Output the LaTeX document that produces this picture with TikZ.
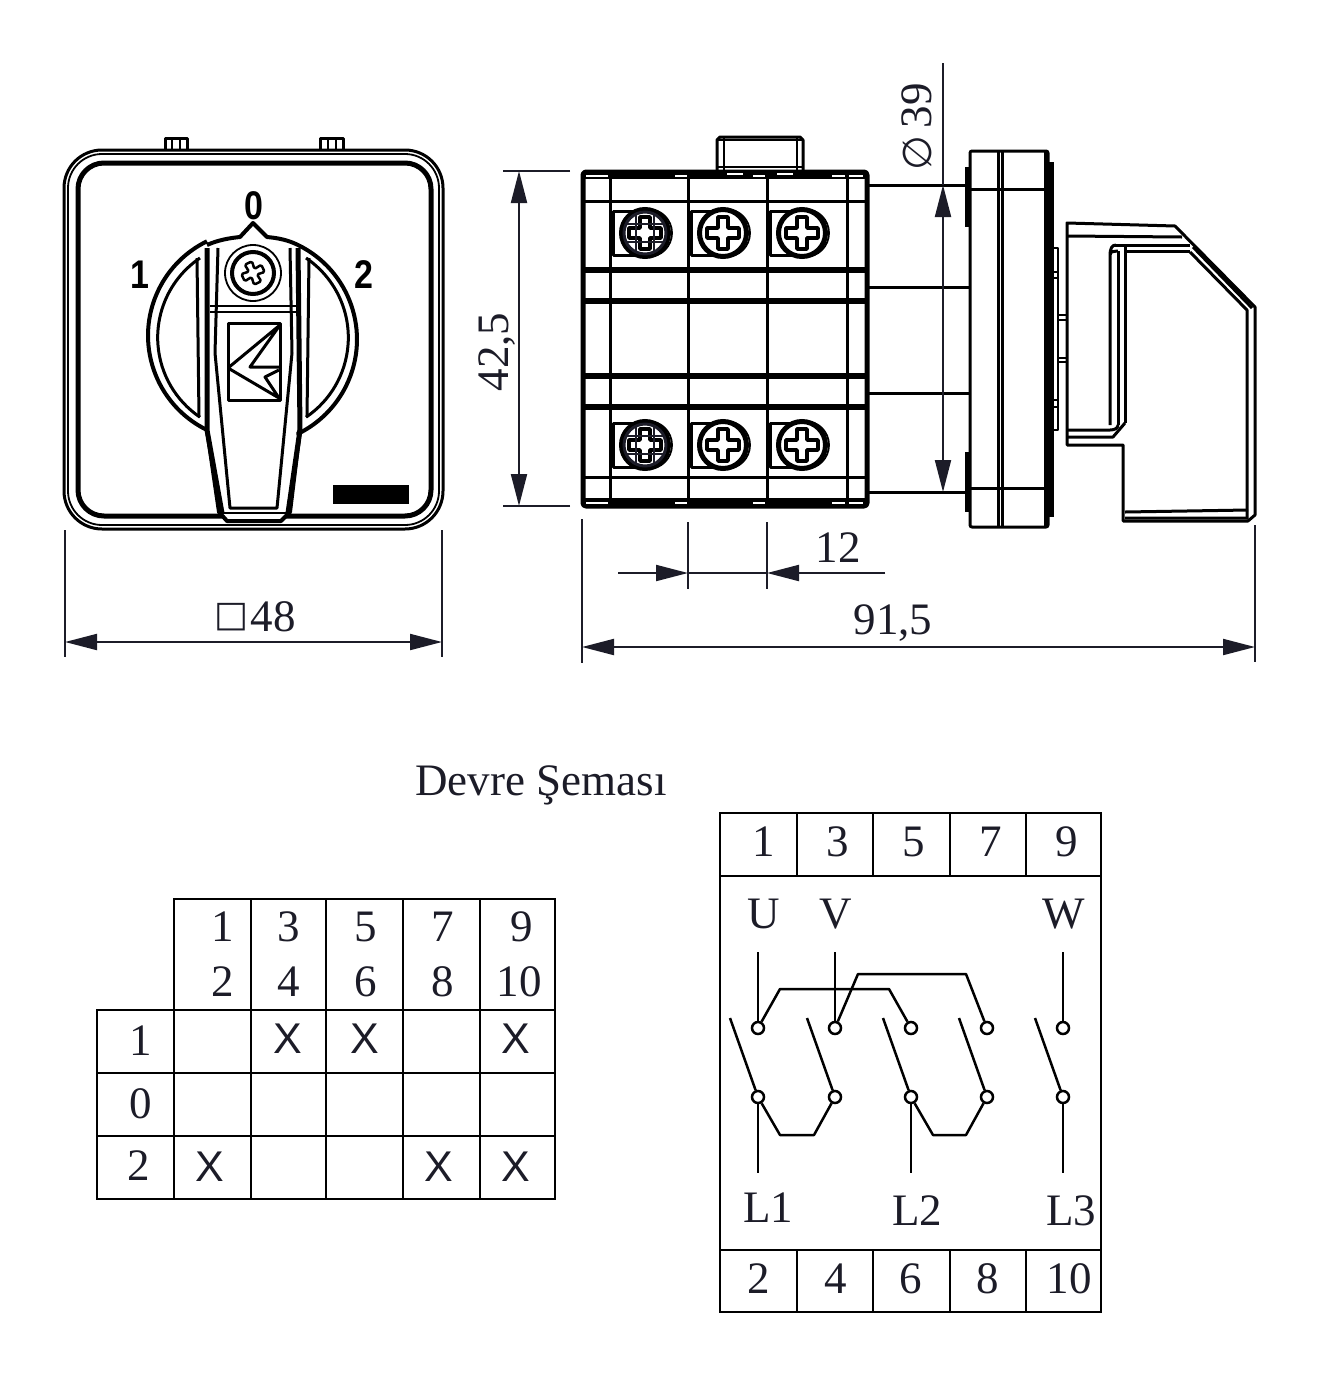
\documentclass[tikz,border=0pt]{standalone}
\usepackage{fontspec}
\setmainfont{Liberation Serif}
\newfontfamily\dialfont{Liberation Sans}
\newfontfamily\markfont{DejaVu Sans}
\usetikzlibrary{shapes,arrows.meta}
\newcommand{\textsz}{\fontsize{45}{45}\selectfont}
\definecolor{dimink}{HTML}{1C1C28}
\begin{document}
\begin{tikzpicture}[x=1pt,y=-1pt,>={Triangle[length=32pt,width=16pt]}]
    \tikzstyle{heavy} = [line width=4pt, line join=round]
    \tikzstyle{medium} = [line width=3pt, line join=round]
    \tikzstyle{fine} = [line width=1.8pt, line join=round]
    \tikzstyle{dim} = [line width=2pt, draw=dimink, fill=dimink]
    \tikzstyle{dimend} = [coordinate]
    \tikzstyle{dimtext} = [inner sep=0pt, text=dimink, font=\textsz]
    \tikzstyle{dialtext} = [inner sep=0pt, xscale=.85, font=\dialfont\bfseries\fontsize{40}{40}\selectfont]
    \tikzstyle{cross} = [inner sep=0pt, text=dimink, font=\dialfont\fontsize{43}{43}\selectfont]
    \tikzstyle{screw} = [draw, circle, fill=white, line width=5pt, minimum size=47pt, inner sep=0pt]
    \tikzstyle{contact} = [draw, circle, fill=white, line width=2.5pt, minimum size=12pt, inner sep=0pt]
    \tikzstyle{wire} = [line width=2.5pt, line join=round]

    \useasboundingbox (0,0) rectangle (1320,1377);

    % front view
    \draw [medium] (165,150) -- (165,138) -- (187,138) -- (187,150);
    \draw [fine] (172,138) -- (172,150) (180,138) -- (180,150);
    \draw [medium] (320,150) -- (320,138) -- (343,138) -- (343,150);
    \draw [fine] (328,138) -- (328,150) (336,138) -- (336,150);
    \draw [medium, rounded corners=38pt] (64,150) rectangle (443,529);
    \draw [fine, rounded corners=34pt] (68,154) rectangle (439,525);
    \draw [line width=5pt, rounded corners=26pt] (78,163) rectangle (431,516);
    \draw [heavy, fill=white] (207,245) .. controls (218,240) and (230,238) .. (240,237)
        -- (253,223) -- (267,237) .. controls (278,238) and (288,240) .. (298,245)
        arc [start angle=-64, end angle=64, radius=105]
        -- (300,430) -- (290,512) -- (281,521) -- (227,521) -- (219,512) -- (207,430)
        arc [start angle=116, end angle=244, radius=105];
    \draw [medium] (200,258) arc [start angle=236, end angle=124, radius=96];
    \draw [medium] (306,258) arc [start angle=-56, end angle=56, radius=96];
    \draw [medium] (197,258) -- (199,417) (309,258) -- (307,417);
    \draw [line width=5pt] (207,248) -- (207,430) -- (222,513) (298,248) -- (300,430) -- (288,513);
    \draw [medium] (218,248) -- (215,353) -- (230,508) -- (277,508) -- (292,353) -- (290,248);
    \draw [fine] (222,513) -- (288,513);
    \draw [fine] (210,306) -- (298,306) (210,312) -- (298,312);
    \node [draw, circle, line width=1.8pt, minimum size=56pt, inner sep=0pt, name=knobRim] at (253,273) {};
    \node [draw, circle, line width=4pt, minimum size=42pt, inner sep=0pt, name=knobScrew] at (253,273) {};
    \draw [line width=2.5pt, line join=round, rounded corners=1.5pt, shift={(253,273)}, rotate=25]
        (-3,-3) -- (-4,-11) -- (4,-11) -- (3,-3) -- (11,-4) -- (11,4) -- (3,3) -- (4,11) -- (-4,11) -- (-3,3) -- (-11,4) -- (-11,-4) -- cycle;
    \draw [medium] (228,323) rectangle (280,400);
    \draw [medium] (228,368) -- (280,325) -- (250,367) -- (279,367);
    \draw [medium] (228,368) -- (279,398) -- (265,377) -- (279,370);
    \fill (333,485) rectangle (409,504);
    \node [dialtext, name=pos0] at (254,206) {0};
    \node [dialtext, name=pos1] at (140,275) {1};
    \node [dialtext, name=pos2] at (364,275) {2};

    % side view
    \draw [medium] (717,170) -- (717,140) -- (720,137) -- (800,137) -- (803,140) -- (803,170);
    \draw [fine] (724,137) -- (724,170) (797,137) -- (797,170) (717,140) -- (803,140) (717,167) -- (803,167);
    \foreach \gy in {201, 477}
        \draw [medium] (583,\gy) -- (867,\gy);
    \foreach \gy in {270, 301, 376, 407}
        \draw [line width=6pt] (583,\gy) -- (867,\gy);
    \foreach \gx in {610, 688, 767, 847}
        \draw [medium] (\gx,172) -- (\gx,506);
    \foreach \sx/\sy/\sn in {645/233/a, 723/233/b, 802/233/c, 645/445/d, 723/445/e, 802/445/f} {
        \draw [medium] (\sx-32,\sy-22) rectangle (\sx,\sy+22);
        \draw [fine] (\sx+3,\sy) circle [radius=24];
        \node [screw, name=screw\sn] at (\sx,\sy) {};
        \draw [line width=3.5pt, line join=round, shift={(\sx,\sy)}] (-5,-16) -- (5,-16) -- (5,-5) -- (16,-5) -- (16,5) -- (5,5)
            -- (5,16) -- (-5,16) -- (-5,5) -- (-16,5) -- (-16,-5) -- (-5,-5) -- cycle;
    }
    \foreach \sy in {233, 445} {
        \draw [fine, draw=dimink, shift={(645,\sy)}] (-20,-9) -- (20,-9) (-20,9) -- (20,9) (-9,-20) -- (-9,20) (9,-20) -- (9,20);
        \draw [line width=3pt, draw=dimink] (645,\sy) circle [radius=21];
    }
    \draw [line width=5pt, line join=round, rounded corners=3pt] (583,172) rectangle (867,506);
    \draw [line width=7pt] (583,175) -- (867,175);
    \draw [line width=8pt] (583,502) -- (867,502);
    \foreach \wa/\wb in {586/608, 675/687, 753/765, 832/845, 849/863}
        \draw [white, line width=1.2pt] (\wa,176) -- (\wb,176) (\wa,503) -- (\wb,503);
    \foreach \wa/\wb in {727/743, 777/793}
        \draw [white, line width=1.8pt] (\wa,174) -- (\wb,174);
    \foreach \gy in {185, 287, 393, 492}
        \draw [medium] (867,\gy) -- (970,\gy);

    \draw [line width=6pt] (968,167) -- (968,227) (968,452) -- (968,512);
    \draw [line width=6pt] (1051,162) -- (1051,517);
    \draw [medium, fill=white, rounded corners=2pt] (970,151) rectangle (1048,527);
    \draw [medium] (998,151) -- (998,527) (1002,151) -- (1002,527) (1045,151) -- (1045,527);
    \draw [medium] (970,189) -- (1048,189) (970,488) -- (1048,488);
    \draw [fine] (1053,248) -- (1058,248) -- (1058,430) -- (1053,430);
    \draw [fine] (1053,272) -- (1058,272) (1053,278) -- (1058,278) (1053,400) -- (1058,400) (1053,407) -- (1058,407);
    \draw [fine] (1058,315) -- (1066,315) (1058,320) -- (1066,320) (1058,358) -- (1066,358) (1058,362) -- (1066,362);

    \draw [medium] (1067,223) -- (1175,226) -- (1255,307) -- (1255,515) -- (1248,521)
        -- (1123,521) -- (1123,445) -- (1067,445) -- cycle;
    \draw [medium] (1067,236) -- (1182,237);
    \draw [medium] (1115,245) -- (1190,245) (1125,251) -- (1190,251);
    \draw [medium] (1118,251) .. controls (1112,252) and (1110,250) .. (1110,258) -- (1110,425) (1110,256) .. controls (1110,248) and (1112,245) .. (1116,245);
    \draw [medium] (1118,251) -- (1118,425) (1125,245) -- (1125,423);
    \draw [medium] (1067,430) -- (1110,430) .. controls (1115,430) and (1118,428) .. (1118,425);
    \draw [medium] (1067,437) -- (1113,437) -- (1125,423);
    \draw [medium] (1193,247) -- (1252,308) (1190,252) -- (1247,310) -- (1247,519);
    \draw [medium] (1125,512) -- (1248,510) (1125,518) -- (1248,518);

    % dimensions
    \node [dimend, name=frontL] at (65,642) {};
    \node [dimend, name=frontR] at (442,642) {};
    \draw [dim] (65,530) -- (frontL) -- (65,657) (442,530) -- (frontR) -- (442,657);
    \draw [dim, <->] (frontL) -- (frontR);
    \node [inner sep=0pt, text=dimink, font=\markfont\fontsize{36}{36}\selectfont, name=squareMark] at (232,617) {□};
    \node [dimtext, name=widthText] at (273,617) {48};

    \node [dimend, name=heightT] at (519,171) {};
    \node [dimend, name=heightB] at (519,506) {};
    \draw [dim] (503,171) -- (570,171) (503,506) -- (570,506);
    \draw [dim, <->] (heightT) -- (heightB);
    \node [dimtext, rotate=90, name=heightText] at (497,352) {42,5};

    \node [dimend, name=diaT] at (943,185) {};
    \node [dimend, name=diaB] at (943,492) {};
    \node [dimend, name=diaEnd] at (943,63) {};
    \draw [dim] (diaEnd) -- (diaT);
    \draw [dim, <->] (diaT) -- (diaB);
    \node [dimtext, rotate=90, name=diaText] at (917,127) {{\markfont\fontsize{40}{40}\selectfont ∅}\,39};

    \node [dimend, name=totalL] at (582,647) {};
    \node [dimend, name=totalR] at (1255,647) {};
    \draw [dim] (582,519) -- (totalL) -- (582,663) (1255,525) -- (totalR) -- (1255,662);
    \draw [dim, <->] (totalL) -- (totalR);
    \node [dimtext, name=totalText] at (893,623) {91,5};

    \node [dimend, name=pitchL] at (688,573) {};
    \node [dimend, name=pitchR] at (767,573) {};
    \node [dimend, name=pitchA] at (618,573) {};
    \node [dimend, name=pitchB] at (885,573) {};
    \draw [dim] (688,522) -- (pitchL) -- (688,589) (767,522) -- (pitchR) -- (767,589);
    \draw [dim] (pitchL) -- (pitchR);
    \draw [dim, ->] (pitchA) -- (pitchL);
    \draw [dim, ->] (pitchB) -- (pitchR);
    \node [dimtext, name=pitchText] at (838,548) {12};

    % table
    \node [dimtext, name=title] at (541,785) {Devre Şeması};
    \draw [line width=2pt] (174,1010) -- (174,899) -- (555,899) -- (555,1199) -- (97,1199) -- (97,1010) -- (555,1010);
    \foreach \gy in {1073, 1136}
        \draw [line width=2pt] (97,\gy) -- (555,\gy);
    \foreach \gx in {251, 326, 403, 480}
        \draw [line width=2pt] (\gx,899) -- (\gx,1199);
    \draw [line width=2pt] (174,1010) -- (174,1199);
    \foreach \tx/\ta/\tb/\tn in {223/1/2/a, 289/3/4/b, 366/5/6/c, 443/7/8/d} {
        \node [dimtext, name=head\tn] at (\tx,927) {\ta};
        \node [dimtext, name=sub\tn] at (\tx,982) {\tb};
    }
    \node [dimtext, name=heade] at (522,927) {9};
    \node [dimtext, name=sube] at (519,982) {10};
    \node [dimtext, name=row1] at (141,1041) {1};
    \node [dimtext, name=row0] at (141,1104) {0};
    \node [dimtext, name=row2] at (139,1166) {2};
    \foreach \cx/\cy/\cn in {288/1039/a, 365/1039/b, 516/1039/c, 210/1167/d, 439/1167/e, 516/1167/f}
        \node [cross, name=cell\cn] at (\cx,\cy) {X};

    % terminals
    \draw [line width=2pt] (720,813) rectangle (1101,1312);
    \draw [line width=2pt] (720,876) -- (1101,876) (720,1250) -- (1101,1250);
    \foreach \gx in {797, 873, 950, 1026}
        \draw [line width=2pt] (\gx,813) -- (\gx,876) (\gx,1250) -- (\gx,1312);
    \foreach \tx/\tt in {764/1, 838/3, 914/5, 991/7, 1067/9}
        \node [dimtext, name=up\tt] at (\tx,842) {\tt};
    \foreach \tx/\tt in {759/2, 836/4, 911/6, 988/8, 1069/10}
        \node [dimtext, name=dn\tt] at (\tx,1279) {\tt};
    \node [dimtext, name=labelU] at (764,914) {U};
    \node [dimtext, name=labelV] at (836,914) {V};
    \node [dimtext, name=labelW] at (1064,914) {W};
    \node [dimtext, name=labelLa] at (768,1208) {L1};
    \node [dimtext, name=labelLb] at (917,1211) {L2};
    \node [dimtext, name=labelLc] at (1071,1211) {L3};

    \foreach \cx/\cn in {758/a, 835/b, 911/c, 987/d, 1063/e} {
        \node [contact, name=top\cn] at (\cx,1028) {};
        \node [contact, name=bot\cn] at (\cx,1097) {};
        \node [dimend, name=blade\cn] at (\cx-28,1018) {};
        \draw [wire] (blade\cn) -- (bot\cn);
    }
    \node [dimend, name=feedU] at (758,952) {};
    \node [dimend, name=feedV] at (835,952) {};
    \node [dimend, name=feedW] at (1063,952) {};
    \node [dimend, name=lineA] at (758,1173) {};
    \node [dimend, name=lineB] at (911,1173) {};
    \node [dimend, name=lineC] at (1063,1173) {};
    \draw [wire] (feedU) -- (topa);
    \draw [wire] (feedV) -- (topb);
    \draw [wire] (feedW) -- (tope);
    \draw [wire] (bota) -- (lineA);
    \draw [wire] (botc) -- (lineB);
    \draw [wire] (bote) -- (lineC);
    \draw [wire] (topa) -- (780,989) -- (889,989) -- (topc);
    \draw [wire] (topb) -- (858,974) -- (966,974) -- (topd);
    \draw [wire] (bota) -- (780,1135) -- (814,1135) -- (botb);
    \draw [wire] (botc) -- (933,1135) -- (966,1135) -- (botd);
\end{tikzpicture}
\end{document}
